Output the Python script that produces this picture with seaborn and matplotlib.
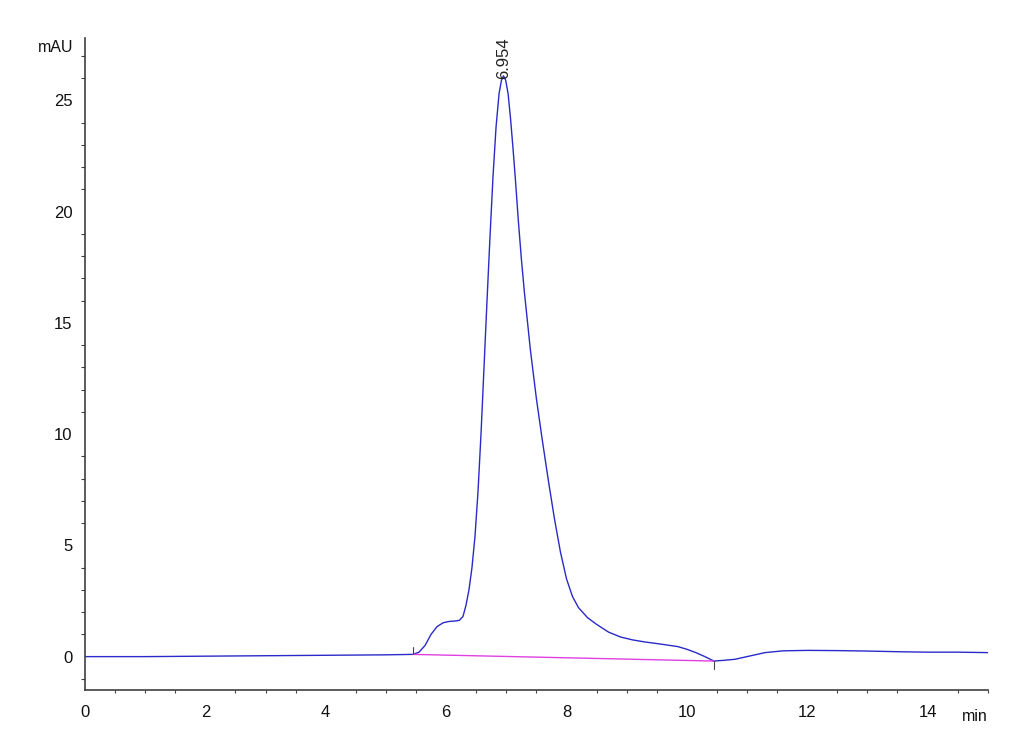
import numpy as np
import pandas as pd
import matplotlib
matplotlib.use("Agg")
import matplotlib.pyplot as plt
import seaborn as sns
from matplotlib.ticker import MultipleLocator

# chromatogram trace (min, mAU)
time_min = [0.0, 1.0, 2.0, 3.0, 4.0, 5.0, 5.45, 5.55, 5.65, 5.75, 5.85, 5.95,
            6.05, 6.15, 6.22, 6.28, 6.33, 6.38, 6.43, 6.48, 6.53, 6.58, 6.63,
            6.68, 6.73, 6.78, 6.83, 6.88, 6.92, 6.954, 6.99, 7.03, 7.07, 7.11,
            7.15, 7.20, 7.25, 7.30, 7.40, 7.50, 7.60, 7.70, 7.80, 7.90, 8.00,
            8.10, 8.20, 8.35, 8.50, 8.70, 8.90, 9.10, 9.30, 9.60, 9.85, 10.00,
            10.15, 10.30, 10.45, 10.60, 10.80, 11.00, 11.30, 11.60, 12.00,
            12.50, 13.00, 13.50, 14.00, 14.50, 15.00]
signal_mau = [0.0, 0.0, 0.02, 0.04, 0.06, 0.08, 0.1, 0.2, 0.5, 1.0, 1.35, 1.52,
              1.58, 1.6, 1.63, 1.8, 2.3, 3.0, 4.0, 5.4, 7.4, 10.0, 13.0,
              16.0, 18.9, 21.6, 23.8, 25.3, 25.9, 26.1, 25.9, 25.3, 24.2, 22.9,
              21.5, 19.6, 17.9, 16.4, 13.8, 11.6, 9.7, 7.9, 6.2, 4.7, 3.5,
              2.7, 2.2, 1.75, 1.45, 1.1, 0.88, 0.75, 0.66, 0.55, 0.45, 0.33,
              0.18, 0.0, -0.2, -0.17, -0.12, 0.0, 0.18, 0.26, 0.28,
              0.27, 0.25, 0.22, 0.2, 0.2, 0.18]

# integration baseline
base_t = [5.45, 10.45]
base_y = [0.1, -0.2]
peak_rt = 6.954
peak_h = 26.1

df = pd.DataFrame({"time": time_min, "mAU": signal_mau})

sns.set_style("white")
plt.rcParams["font.family"] = ["Liberation Sans", "DejaVu Sans"]

fig = plt.figure(figsize=(10.3, 7.55), dpi=100)
ax = fig.add_axes([0.0825, 0.0861, 0.8765, 0.8636])

sns.lineplot(data=df, x="time", y="mAU", ax=ax, color="#2a2ac8", lw=1.0)
ax.plot(base_t, base_y, color="#e040e0", lw=1.0)
# start / end marks of the integration
ax.plot([base_t[0], base_t[0]], [base_y[0], base_y[0] + 0.35], color="#444444", lw=0.8)
ax.plot([base_t[1], base_t[1]], [base_y[1], base_y[1] - 0.35], color="#444444", lw=0.8)

ax.text(peak_rt, peak_h - 0.15, "6.954", rotation=90, ha="center", va="bottom",
        fontsize=12, color="#222222")

ax.set_xlim(0, 15)
ax.set_ylim(-1.5, 27.8)
ax.set_xlabel("")
ax.set_ylabel("")
ax.xaxis.set_major_locator(MultipleLocator(2))
ax.xaxis.set_minor_locator(MultipleLocator(0.5))
ax.yaxis.set_major_locator(MultipleLocator(5))
ax.yaxis.set_minor_locator(MultipleLocator(1))

for s in ["top", "right"]:
    ax.spines[s].set_visible(False)
for s in ["left", "bottom"]:
    ax.spines[s].set_color("#404040")
    ax.spines[s].set_linewidth(1.2)

ax.tick_params(axis="y", which="major", length=6, width=1, color="#404040",
               labelsize=12, labelcolor="#111111", pad=3)
ax.tick_params(axis="y", which="minor", length=3, width=0.8, color="#404040", left=True)
ax.tick_params(axis="x", which="major", length=4, width=1, color="#404040",
               labelsize=12, labelcolor="#111111", pad=7)
ax.tick_params(axis="x", which="minor", length=2, width=0.8, color="#404040", bottom=True)

ax.text(-0.013, 0.985, "mAU", transform=ax.transAxes, ha="right", va="center",
        fontsize=11.5, color="#111111")
ax.text(1.0, -0.041, "min", transform=ax.transAxes, ha="right", va="center",
        fontsize=11.5, color="#111111")

fig.savefig("out.png", dpi=100, facecolor="white")
